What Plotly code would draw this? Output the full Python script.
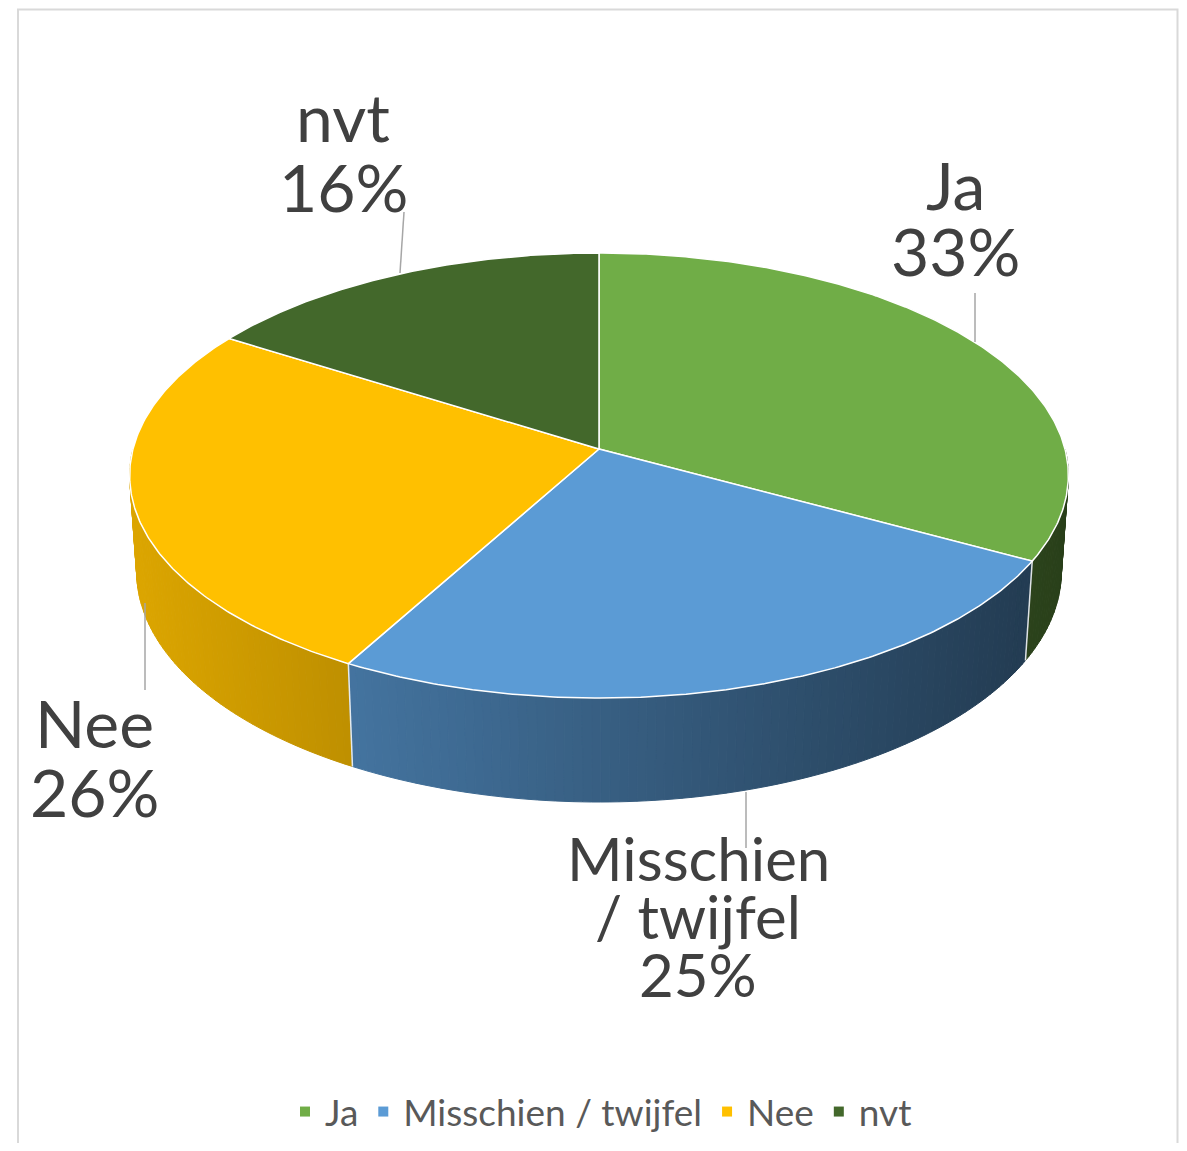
import numpy as np
import plotly.graph_objects as go

# ---------------- data ----------------
categories = ["Ja", "Misschien / twijfel", "Nee", "nvt"]
values = [33, 25, 26, 16]
label_lines = [["Ja"], ["Misschien", "/ twijfel"], ["Nee"], ["nvt"]]
colors = ["#70AD47", "#5B9BD5", "#FFC000", "#43682B"]

# ---------------- layout / styling params (page pixels) ----------------
OFF = 8                      # default body margin of the html page
W, H = 1187 - 2 * OFF, 1151 - 2 * OFF
CX, CY, RS = 599, 449, 466   # projected centre and radius of the pie
SIN_E = 0.4707               # elevation of the view
COS_E = np.sqrt(1 - SIN_E ** 2)
PERSP = 0.135                # perspective strength
THICK = 0.2357               # pie thickness (in radii)

# label placement: centre x, first line centre y, line pitch, font size
label_place = [(955, 184, 66, 66), (698, 858, 58, 60), (94, 722, 69, 66), (343, 116, 70, 66)]
# leader lines (label end, pie end)
leader = [((975, 293), (975, 342)), ((746, 792), (746, 848)),
          ((145, 603), (145, 690)), ((404, 212), (400, 273))]


def proj(theta, Y=0.0):
    t = np.radians(theta)
    X, Z = np.sin(t), np.cos(t)
    v = Z * SIN_E + Y * COS_E
    w = Z * COS_E - Y * SIN_E
    den = 1 + PERSP * w
    return CX + RS * X / den, CY - RS * v / den, w


def hex2rgb(h):
    h = h.lstrip("#")
    return [int(h[i:i + 2], 16) for i in (0, 2, 4)]


def shade(h, x):
    f = 0.86 - (x - 140) * (0.49 / 925)
    f = max(0.3, min(0.95, f))
    r, g, b = hex2rgb(h)
    return f"rgb({int(r * f)},{int(g * f)},{int(b * f)})"


total = sum(values)
fracs = [v / total for v in values]
starts = np.concatenate([[0], np.cumsum(fracs)[:-1]]) * 360
ends = np.cumsum(fracs) * 360

fig = go.Figure()
shapes = []

# border of the chart area
shapes.append(dict(type="rect", xref="x", yref="y", x0=18, y0=9.5, x1=1177.5, y1=1200,
                   line=dict(color="#D9D9D9", width=2), fillcolor="rgba(0,0,0,0)", layer="below"))

# side walls (strips ordered back to front)
strips = []
for i, (a1, a2) in enumerate(zip(starts, ends)):
    lo, hi = max(a1, 90), min(a2, 270)
    if hi <= lo:
        continue
    n = max(2, int(np.ceil((hi - lo) / 1.0)))
    ts = np.linspace(lo, hi, n + 1)
    for t0, t1 in zip(ts[:-1], ts[1:]):
        xa, ya, _ = proj(t0)
        xb, yb, _ = proj(t1)
        xc, yc, _ = proj(t1, -THICK)
        xd, yd, _ = proj(t0, -THICK)
        _, _, wm = proj((t0 + t1) / 2)
        col = shade(colors[i], (xa + xb) / 2)
        path = f"M{xa:.2f},{ya:.2f} L{xb:.2f},{yb:.2f} L{xc:.2f},{yc:.2f} L{xd:.2f},{yd:.2f} Z"
        strips.append((wm, dict(type="path", xref="x", yref="y", path=path, fillcolor=col,
                                line=dict(color=col, width=1), layer="below")))
strips.sort(key=lambda s: -s[0])
shapes += [s[1] for s in strips]

# wall edges at slice boundaries
for a in starts:
    if 90 < a < 270:
        x0, y0, _ = proj(a)
        x1, y1, _ = proj(a, -THICK)
        shapes.append(dict(type="line", xref="x", yref="y", x0=x0, y0=y0, x1=x1, y1=y1,
                           line=dict(color="rgba(255,255,255,0.85)", width=1.5), layer="below"))

# top faces
for i, (a1, a2) in enumerate(zip(starts, ends)):
    ts = np.linspace(a1, a2, int((a2 - a1) * 2) + 2)
    xs, ys = [CX], [CY]
    for t in ts:
        x, y, _ = proj(t)
        xs.append(x)
        ys.append(y)
    xs.append(CX)
    ys.append(CY)
    fig.add_trace(go.Scatter(x=xs, y=ys, mode="lines", fill="toself", fillcolor=colors[i],
                             line=dict(color="white", width=1.5), hoverinfo="skip", showlegend=False))

# legend entries
for i, c in enumerate(categories):
    fig.add_trace(go.Scatter(x=[None], y=[None], mode="markers", name=c,
                             marker=dict(symbol="square", size=10, color=colors[i])))

# leader lines
for (p0, p1) in leader:
    shapes.append(dict(type="line", xref="x", yref="y", x0=p0[0], y0=p0[1], x1=p1[0], y1=p1[1],
                       line=dict(color="#A6A6A6", width=1.5), layer="above"))

# data labels
annotations = []
for i, lines in enumerate(label_lines):
    cx, cy, pitch, fs = label_place[i]
    pct = f"{round(values[i] / total * 100)}%"
    for j, txt in enumerate(lines + [pct]):
        annotations.append(dict(x=cx, y=cy + j * pitch, xref="x", yref="y", text=txt, showarrow=False,
                                xanchor="center", yanchor="middle",
                                font=dict(family="Lato", size=fs, color="#404040")))

fig.update_layout(
    width=W, height=H,
    margin=dict(l=0, r=0, t=0, b=0),
    paper_bgcolor="white", plot_bgcolor="white",
    xaxis=dict(range=[OFF, OFF + W], visible=False, fixedrange=True),
    yaxis=dict(range=[OFF + H, OFF], visible=False, fixedrange=True),
    shapes=shapes, annotations=annotations,
    showlegend=True,
    legend=dict(orientation="h", x=(601 - OFF) / W, xanchor="center",
                y=1 - (1112 - OFF) / H, yanchor="middle",
                font=dict(family="Lato", size=37, color="#595959"),
                bgcolor="rgba(0,0,0,0)"),
)

fig.write_html("out.html")
